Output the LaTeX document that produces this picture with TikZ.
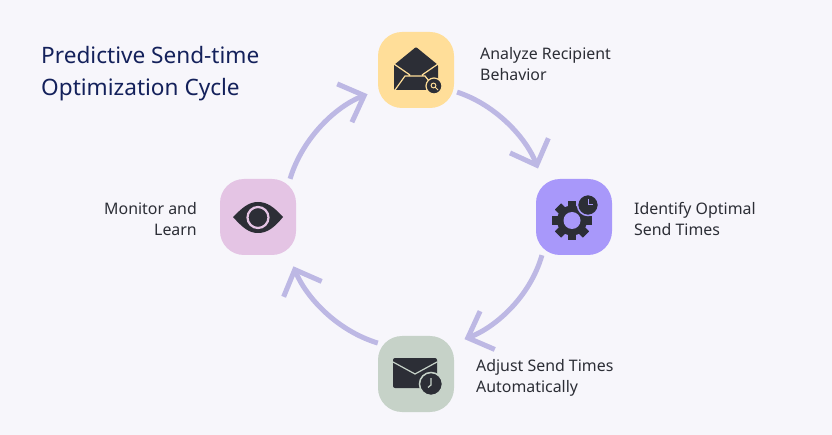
\documentclass[tikz,border=0pt]{standalone}
\usepackage{fontspec}
\setmainfont{Noto Sans}
\usetikzlibrary{arrows.meta}
\definecolor{pagebg}{HTML}{F7F6FB}
\definecolor{navy}{HTML}{14215B}
\definecolor{inkdark}{HTML}{2C2E36}
\definecolor{arrowlilac}{HTML}{BDB8E4}
\definecolor{tileyellow}{HTML}{FFDE99}
\definecolor{tilepurple}{HTML}{A898FA}
\definecolor{tilegreen}{HTML}{C6D2C8}
\definecolor{tilepink}{HTML}{E4C4E4}
\tikzset{
  tile/.style={minimum size=76pt, inner sep=0pt, rounded corners=24pt},
  caption/.style={font=\fontsize{15.9}{20.5}\selectfont, text=inkdark, inner sep=0pt},
  cycle arrow/.style={draw=arrowlilac, line width=5pt, looseness=0.9,
    -{Straight Barb[length=21pt, width=41pt, line width=5pt]}},
}
\begin{document}
\begin{tikzpicture}[x=1pt, y=-1pt]
  \useasboundingbox (0,0) rectangle (832,435);
  \fill [pagebg] (0,0) rectangle (832,435);

  % title
  \node [anchor=north west, align=left, inner sep=0pt, text=navy,
    font=\fontsize{22.6}{32.5}\selectfont] (title) at (41,46) {Predictive Send-time\\Optimization Cycle};

  % tiles
  \node [tile, fill=tileyellow] (analyze) at (416,70) {};
  \node [tile, fill=tilepurple] (identify) at (574,217) {};
  \node [tile, fill=tilegreen] (adjust) at (416,374) {};
  \node [tile, fill=tilepink] (monitor) at (258,217) {};

  % captions
  \node [caption, anchor=west, align=left] (analyzetext) at (480,64) {Analyze Recipient\\Behavior};
  \node [caption, anchor=west, align=left] (identifytext) at (634,219) {Identify Optimal\\Send Times};
  \node [caption, anchor=west, align=left] (adjusttext) at (476,378) {Adjust Send Times\\Automatically};
  \node [caption, anchor=east, align=right] (monitortext) at (197,219) {Monitor and\\Learn};

  % arrows
  \draw [cycle arrow, shorten <=3pt, shorten >=11pt] (analyze.-29) to [out=-18, in=111] (identify.130);
  \draw [cycle arrow, shorten >=11pt] (identify.-130) to [out=-106, in=21] (adjust.39);
  \draw [cycle arrow, shorten >=12pt] (adjust.141) to [out=163, in=-68] (monitor.-51);
  \draw [cycle arrow, shorten >=11pt] (monitor.50) to [out=73, in=-159] (analyze.-152);

  % envelope icon
  \fill [inkdark, rounded corners=1pt] (394,65) -- (416,47) -- (438,65) -- (438,90) -- (394,90) -- cycle;
  \draw [tileyellow, line width=1.2pt] (394,64) -- (410,75) (438,64) -- (422,75)
    (395,90) -- (405,76) -- (425,76) -- (433,86);
  \fill [inkdark, draw=tileyellow, line width=1.2pt] (434,86) circle (8pt);
  \draw [tileyellow, line width=1pt] (433.5,85.5) circle (2.4pt) (435.5,87.5) -- (438,90);

  % gear icon
  \foreach \a in {0,45,...,315}
    \fill [inkdark, rotate around={\a:(572,220.5)}] (567.7,200.8) rectangle (576.3,240.2);
  \fill [inkdark] (572,220.5) circle (15pt);
  \fill [tilepurple] (572,220.5) circle (8.5pt);
  \fill [inkdark, draw=tilepurple, line width=1.5pt] (588,205) circle (10.5pt);
  \draw [tilepurple, line width=1pt] (588,199) -- (588,205) -- (592.5,205);

  % clock envelope icon
  \fill [inkdark, rounded corners=2pt] (393,358) rectangle (437,388);
  \draw [tilegreen, line width=1.2pt] (393,362) -- (415,374) -- (437,362);
  \fill [inkdark, draw=tilegreen, line width=1.5pt] (431,384) circle (11.5pt);
  \draw [tilegreen, line width=1.2pt] (431,378) -- (431,385) -- (428,387.5);

  % eye icon
  \fill [inkdark] (233,217) .. controls (243,207) and (249,202) .. (258,202)
    .. controls (267,202) and (274,207) .. (283,217)
    .. controls (274,228) and (267,233) .. (258,233)
    .. controls (249,233) and (243,228) .. cycle;
  \draw [tilepink, line width=2.2pt] (258,217.5) circle (10.5pt);
\end{tikzpicture}
\end{document}
